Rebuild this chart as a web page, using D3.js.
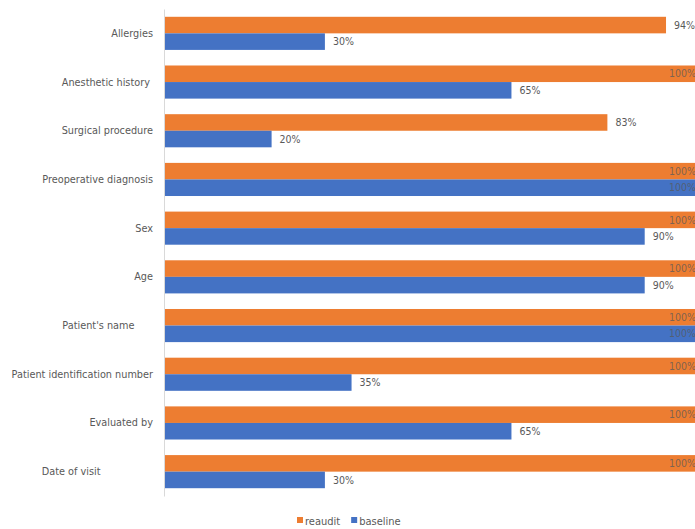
<!DOCTYPE html>
<html>
<head>
<meta charset="utf-8">
<script src="https://cdn.jsdelivr.net/npm/d3@7"></script>
<style>
  body { margin: 0; background: #fff; }
  svg text { font-family: "Liberation Sans Narrow", "DejaVu Sans Condensed", "Open Sans", sans-serif; fill: #595959; white-space: pre; }
</style>
</head>
<body>
<div id="chart"></div>
<script>
// chart data (labels kept as in the source sheet, trailing spaces included)
var categories = [
  'Allergies',
  'Anesthetic history ',
  'Surgical procedure',
  'Preoperative diagnosis',
  'Sex',
  'Age',
  "Patient's name      ",
  'Patient identification number',
  'Evaluated by',
  'Date of visit                 '
];
var reaudit = [94, 100, 83, 100, 100, 100, 100, 100, 100, 100];
var baseline = [30, 65, 20, 100, 90, 90, 100, 35, 65, 30];
var seriesNames = ['reaudit', 'baseline'];
var colors = { reaudit: '#ED7D31', baseline: '#4472C4' };

var svgWidth = 695;
var svgHeight = 529;
var margin = { top: 9, right: -3, bottom: 33, left: 165 };
var width = svgWidth - margin.left - margin.right;
var height = svgHeight - margin.top - margin.bottom;

var svg = d3.select('#chart').append('svg')
  .attr('width', svgWidth)
  .attr('height', svgHeight);

var chartGroup = svg.append('g')
  .attr('transform', `translate(${margin.left}, ${margin.top})`);

var rows = categories.map(function (c, i) {
  return { name: c, reaudit: reaudit[i], baseline: baseline[i] };
});

var xScale = d3.scaleLinear().domain([0, 100]).range([0, width]);
var yScale = d3.scaleBand().domain(categories).range([0, height]).paddingInner(0.32).paddingOuter(0.16);
var subScale = d3.scaleBand().domain(seriesNames).range([0, yScale.bandwidth()]);

// category axis
var leftAxis = d3.axisLeft(yScale).tickSize(0).tickPadding(11);
var yAxis = chartGroup.append('g').attr('transform', 'translate(-1,0)').call(leftAxis);
yAxis.select('.domain').attr('stroke', '#d9d9d9');
yAxis.selectAll('text').style('font-size', '10.8px').attr('fill', '#595959');

var groups = chartGroup.selectAll('.grp')
  .data(rows)
  .enter()
  .append('g')
  .attr('class', 'grp')
  .attr('transform', (d) => `translate(0, ${yScale(d.name)})`);

seriesNames.forEach(function (s) {
  groups.append('rect')
    .attr('x', 0)
    .attr('y', subScale(s))
    .attr('width', (d) => xScale(d[s]))
    .attr('height', subScale.bandwidth())
    .attr('fill', colors[s]);

  groups.append('text')
    .attr('x', function (d) {
      return d[s] >= 100 ? xScale(d[s]) - 2 : xScale(d[s]) + 8;
    })
    .attr('y', subScale(s) + subScale.bandwidth() / 2)
    .attr('dy', '0.35em')
    .attr('text-anchor', (d) => (d[s] >= 100 ? 'end' : 'start'))
    .style('font-size', '10.5px')
    .attr('fill-opacity', (d) => (d[s] >= 100 ? 0.75 : 1))
    .text((d) => d[s] + '%');
});

// legend
var legend = svg.append('g').attr('transform', 'translate(297, 521)');
var lx = 0;
seriesNames.forEach(function (s) {
  legend.append('rect')
    .attr('x', lx)
    .attr('y', -4)
    .attr('width', 6)
    .attr('height', 6)
    .attr('fill', colors[s]);
  var t = legend.append('text')
    .attr('x', lx + 8)
    .attr('y', 0)
    .attr('dy', '0.35em')
    .style('font-size', '11px')
    .text(s);
  lx += 8 + t.node().getComputedTextLength() + 11;
});
</script>
</body>
</html>
